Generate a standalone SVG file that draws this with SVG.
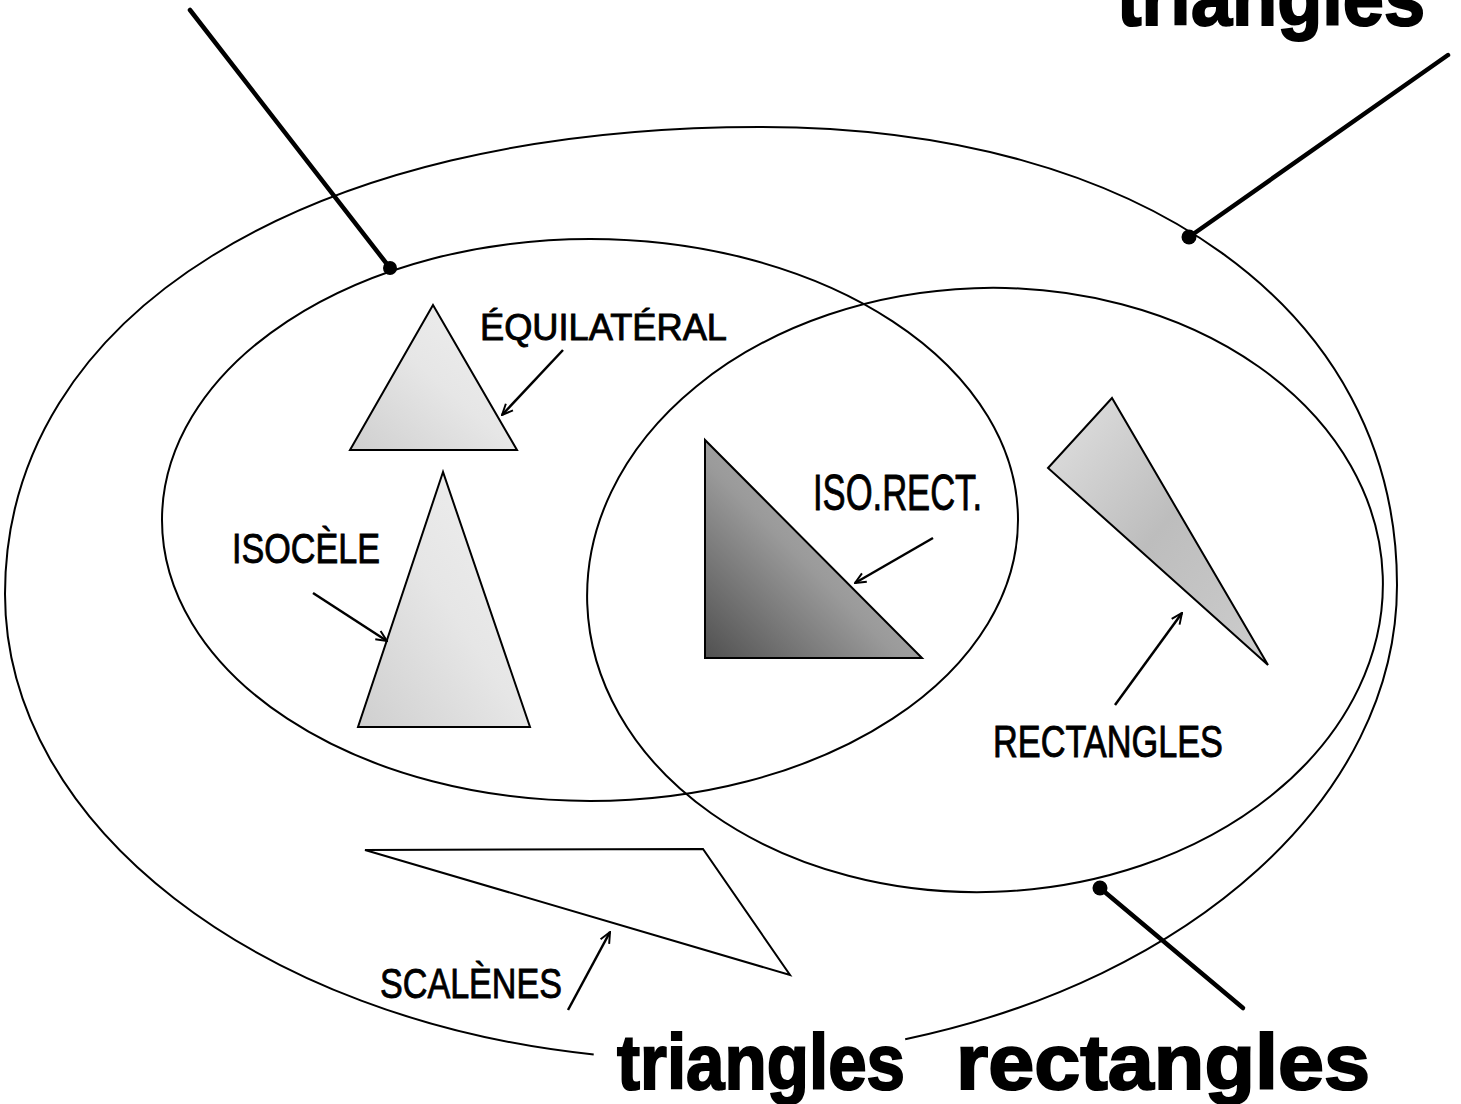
<svg xmlns="http://www.w3.org/2000/svg" width="1461" height="1104" viewBox="0 0 1461 1104">
<defs>
<style>
.set{fill:none;stroke:#000;stroke-width:2}
.tri{stroke:#000;stroke-width:2;stroke-linejoin:miter}
.lead{stroke:#000;stroke-width:4.5;stroke-linecap:round;fill:none}
.arr{stroke:#000;stroke-width:2.5;fill:none;marker-end:url(#ah)}
.dot{fill:#000}
.big{font-family:"Liberation Sans",Arial,sans-serif;font-weight:700;font-size:78px;fill:#000;stroke:#000;stroke-width:2}
.lbl{font-family:"Liberation Sans",Arial,sans-serif;fill:#000;stroke:#000;stroke-width:0.9}
</style>
<marker id="ah" viewBox="0 0 12 12" refX="11" refY="6" markerWidth="13" markerHeight="13" orient="auto" markerUnits="userSpaceOnUse">
<path d="M1,1.5 L11,6 L1,10.5" fill="none" stroke="#000" stroke-width="1.8"/>
</marker>
<linearGradient id="gLight" x1="0" y1="1" x2="1" y2="0">
<stop offset="0" stop-color="#cfcfcf"/><stop offset="0.5" stop-color="#e6e6e6"/><stop offset="1" stop-color="#f0f0f0"/>
</linearGradient>
<linearGradient id="gDark" x1="0" y1="1" x2="1" y2="0">
<stop offset="0" stop-color="#505050"/><stop offset="0.45" stop-color="#9a9a9a"/><stop offset="1" stop-color="#c4c4c4"/>
</linearGradient>
<linearGradient id="gMid" x1="0" y1="0" x2="1" y2="1">
<stop offset="0" stop-color="#e2e2e2"/><stop offset="0.5" stop-color="#bdbdbd"/><stop offset="1" stop-color="#cdcdcd"/>
</linearGradient>
</defs>
<rect width="1461" height="1104" fill="#fff"/>

<g id="set-triangles">
<path class="set" d="M593.7,1054.5 C260.6,1019.8 5,826.6 5,594 C5,314 307,127 760,127 C1142,127 1397,310 1397,585 C1397,798.5 1189.7,979.5 905.2,1039.2"/>
</g>
<g id="set-isoceles">
<ellipse class="set" cx="590" cy="520" rx="428" ry="281"/>
</g>
<g id="set-rectangles">
<ellipse class="set" cx="985" cy="590" rx="398" ry="302" transform="rotate(-2 985 590)"/>
</g>

<g id="tri-equilateral">
<polygon class="tri" points="433,305 350,450 517,450" fill="url(#gLight)"/>
</g>
<g id="tri-isocele">
<polygon class="tri" points="443,472 358,727 530,727" fill="url(#gLight)"/>
</g>
<g id="tri-isorect">
<polygon class="tri" points="705,440 705,658 922,658" fill="url(#gDark)"/>
</g>
<g id="tri-rectangle">
<polygon class="tri" points="1112,398 1048,468 1268,665" fill="url(#gMid)"/>
</g>
<g id="tri-scalene">
<polygon class="tri" points="365,850 703,849 790,975" fill="none"/>
</g>

<g id="title-triangles">
<text class="big" x="1117" y="25" textLength="308" lengthAdjust="spacingAndGlyphs">triangles</text>
</g>
<g id="title-rectangles">
<text class="big" y="1089"><tspan x="617" textLength="288" lengthAdjust="spacingAndGlyphs">triangles</tspan> <tspan x="956" textLength="414" lengthAdjust="spacingAndGlyphs">rectangles</tspan></text>
</g>

<g id="label-equilateral">
<text class="lbl" x="480" y="340" font-size="37" textLength="247" lengthAdjust="spacingAndGlyphs">ÉQUILATÉRAL</text>
</g>
<g id="label-isocele">
<text class="lbl" x="232" y="563" font-size="43" textLength="148" lengthAdjust="spacingAndGlyphs">ISOCÈLE</text>
</g>
<g id="label-isorect">
<text class="lbl" x="813" y="510" font-size="50" textLength="169" lengthAdjust="spacingAndGlyphs">ISO.RECT.</text>
</g>
<g id="label-rectangles">
<text class="lbl" x="993" y="757" font-size="44" textLength="230" lengthAdjust="spacingAndGlyphs">RECTANGLES</text>
</g>
<g id="label-scalenes">
<text class="lbl" x="380" y="998" font-size="43" textLength="182" lengthAdjust="spacingAndGlyphs">SCALÈNES</text>
</g>

<g id="connectors">
<line class="lead" x1="190" y1="10" x2="390" y2="268"/>
<circle class="dot" cx="390" cy="268" r="7"/>
<line class="lead" x1="1448" y1="55" x2="1189" y2="237"/>
<circle class="dot" cx="1189" cy="237" r="7.5"/>
<line class="lead" x1="1100" y1="888" x2="1243" y2="1008"/>
<circle class="dot" cx="1100" cy="888" r="7.5"/>
<line class="arr" x1="563" y1="350" x2="502" y2="415"/>
<line class="arr" x1="313" y1="593" x2="387" y2="641"/>
<line class="arr" x1="933" y1="538" x2="855" y2="583"/>
<line class="arr" x1="1115" y1="705" x2="1182" y2="613"/>
<line class="arr" x1="568" y1="1010" x2="610" y2="932"/>
</g>
</svg>
